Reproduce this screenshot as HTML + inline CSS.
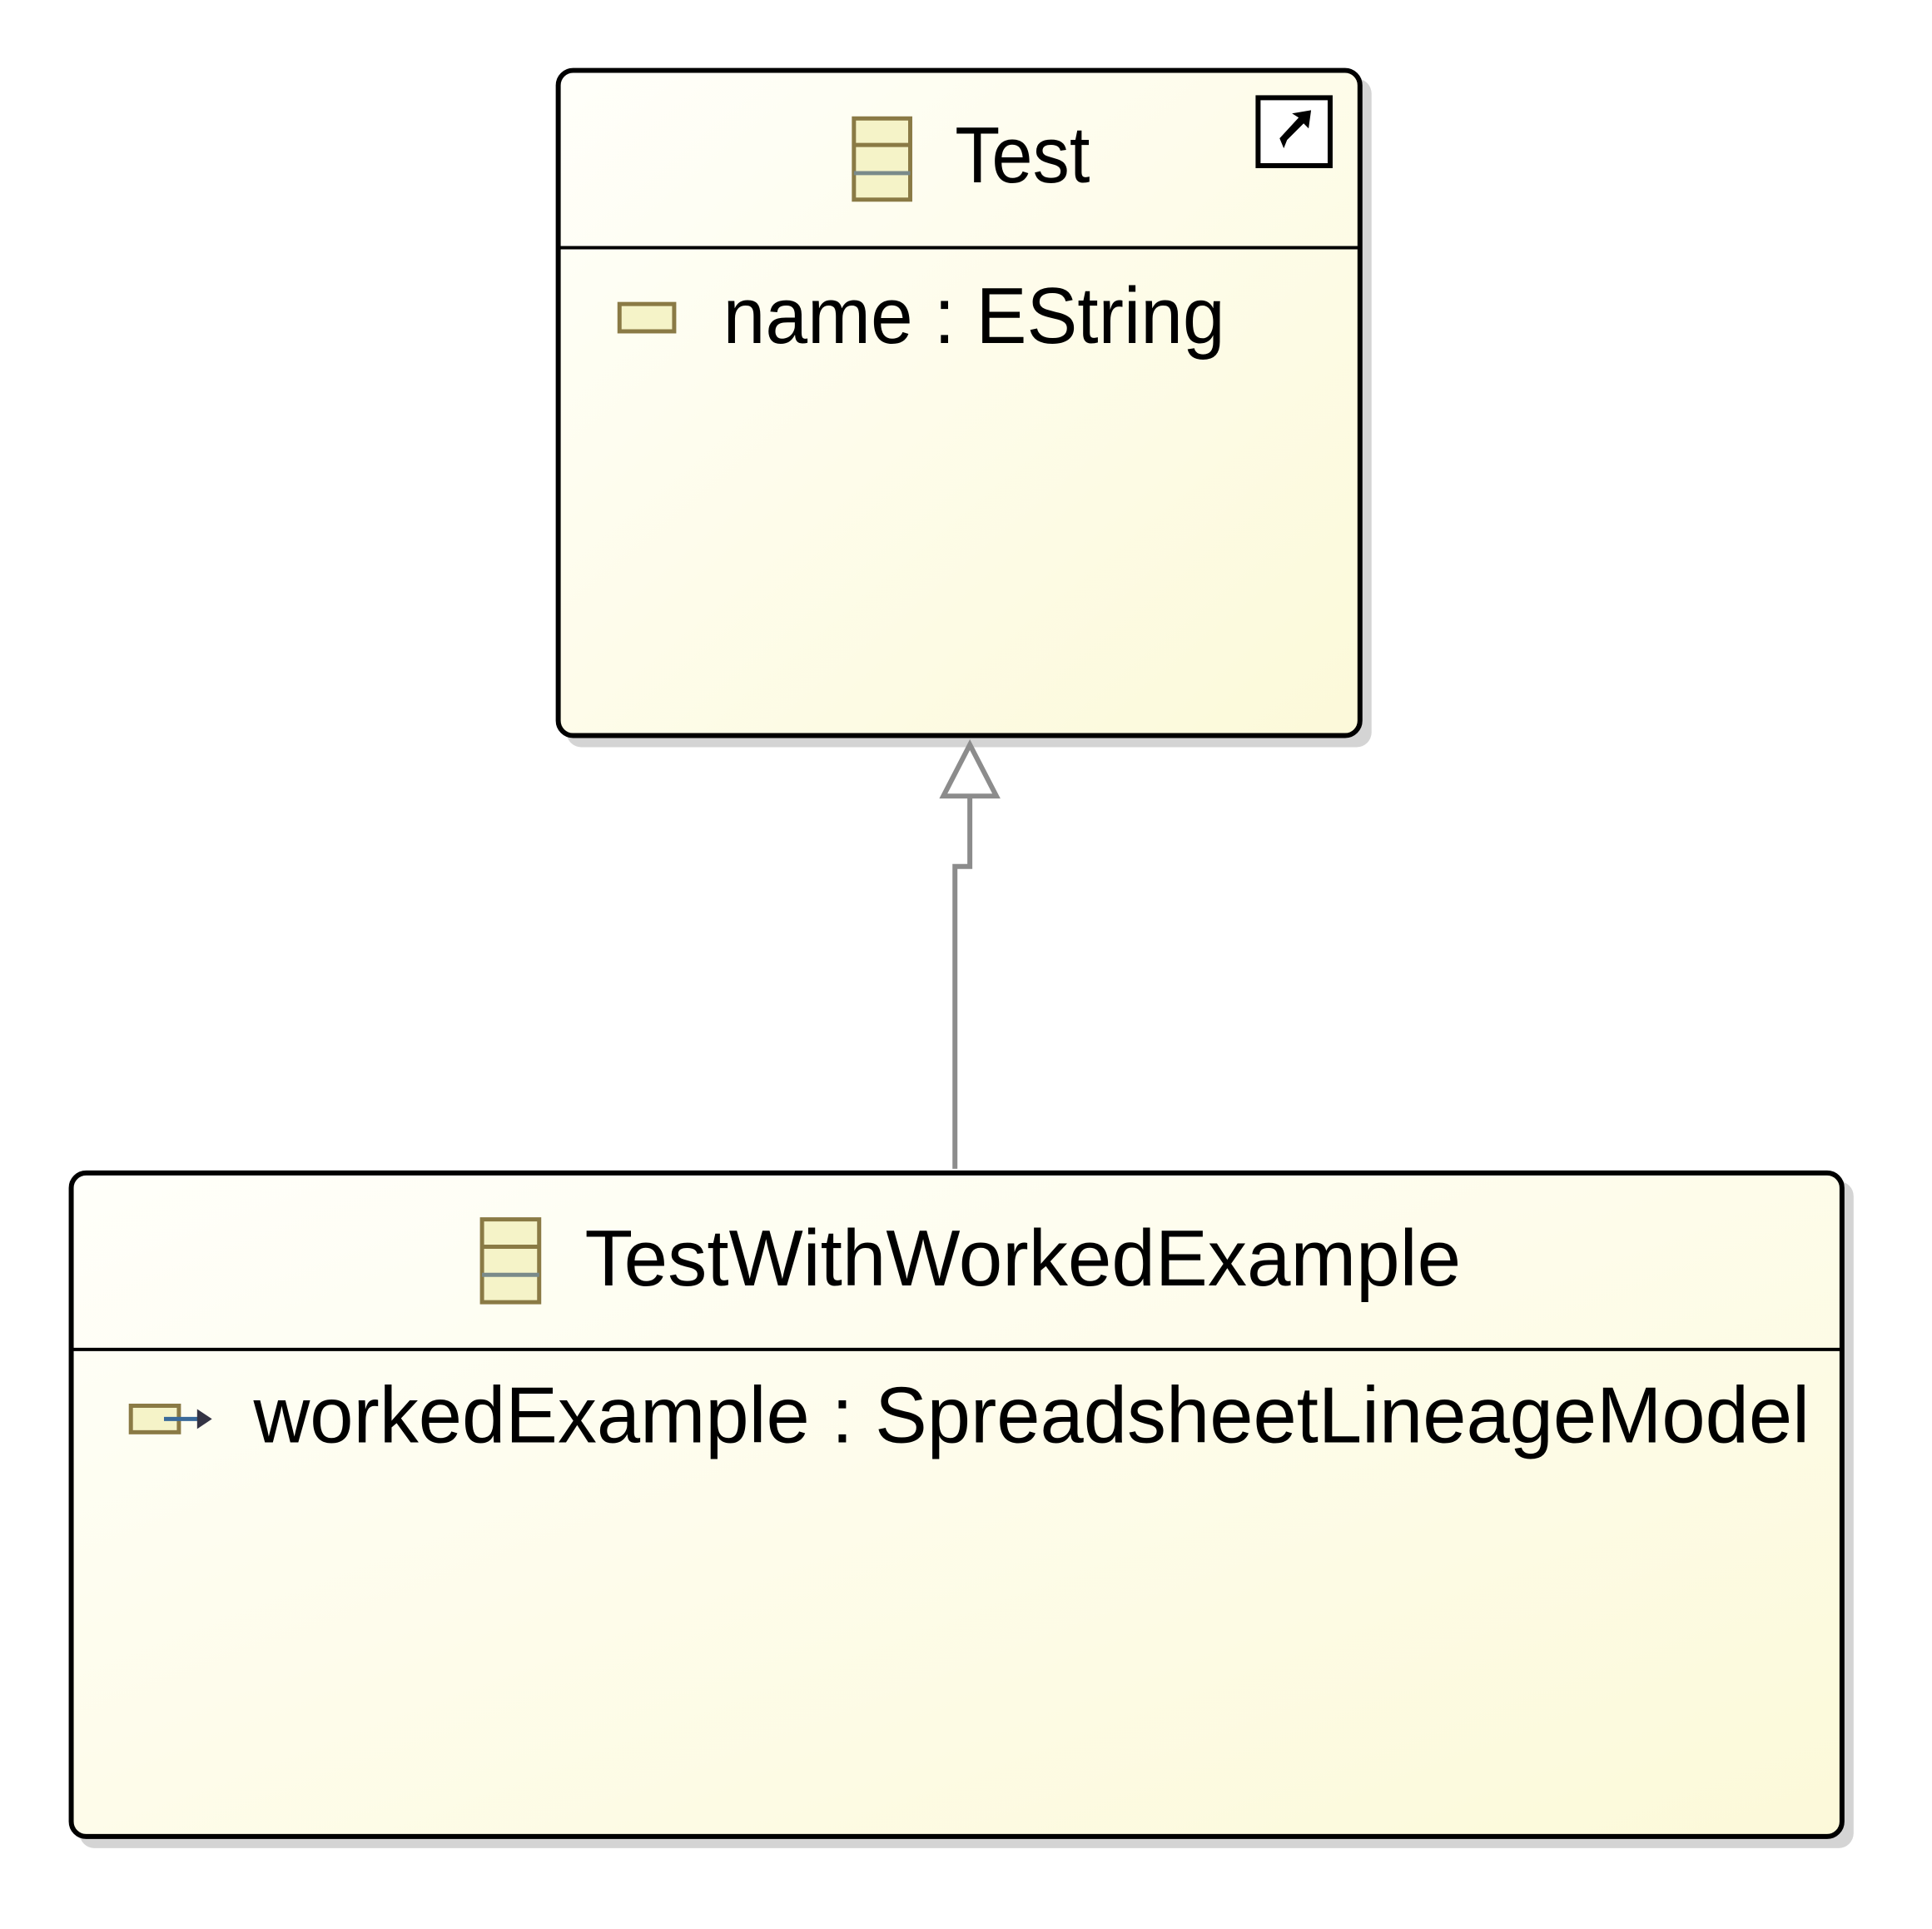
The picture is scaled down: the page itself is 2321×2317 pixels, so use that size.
<!DOCTYPE html>
<html><head><style>html,body{margin:0;padding:0;background:#fff}</style></head>
<body>
<svg width="2321" height="2312" viewBox="0 0 2321 2312" xmlns="http://www.w3.org/2000/svg" font-family="Liberation Sans, sans-serif">
<defs>
<linearGradient id="g" x1="0" y1="0" x2="1" y2="1">
<stop offset="0" stop-color="#fffffa"/><stop offset="1" stop-color="#fcf9d9"/>
</linearGradient>
</defs>
<g transform="translate(-2,-3) scale(0.995)">
<!-- Test box -->
<rect x="686" y="98" width="972" height="807" rx="18" fill="#d4d4d4"/>
<rect x="676" y="88" width="968" height="803" rx="18" fill="url(#g)" stroke="#000" stroke-width="6"/>
<line x1="678" y1="302" x2="1642" y2="302" stroke="#000" stroke-width="4"/>
<g stroke="#8a7a45" stroke-width="5" fill="#f5f3c8">
<rect x="1033" y="146" width="68" height="98"/>
<line x1="1033" y1="178" x2="1101" y2="178"/>
<line x1="1033" y1="212" x2="1101" y2="212" stroke="#7a8a8a"/>
</g>
<text x="1155" y="223" font-size="96" textLength="163" lengthAdjust="spacingAndGlyphs">Test</text>
<rect x="1521" y="121" width="87" height="82" fill="#fff" stroke="#000" stroke-width="6"/>
<path d="M1547 170 L1570 145 L1562 140 L1585 136 L1582 158 L1576 152 L1556 172 L1552 182 Z" fill="#000"/>
<rect x="750" y="370" width="66" height="33" fill="#f5f3c8" stroke="#8a7a45" stroke-width="5"/>
<text x="875" y="417" font-size="96" textLength="606" lengthAdjust="spacingAndGlyphs">name : EString</text>
<!-- connector -->
<polyline points="1173,964 1173,1049 1155,1049 1155,1414" fill="none" stroke="#8c8c8c" stroke-width="6"/>
<polygon points="1173,902 1141,964 1205,964" fill="#fff" stroke="#8c8c8c" stroke-width="6"/>
<!-- bottom box -->
<rect x="98" y="1429" width="2142" height="805" rx="18" fill="#d4d4d4"/>
<rect x="88" y="1419" width="2138" height="801" rx="18" fill="url(#g)" stroke="#000" stroke-width="6"/>
<line x1="90" y1="1632" x2="2224" y2="1632" stroke="#000" stroke-width="4"/>
<g stroke="#8a7a45" stroke-width="5" fill="#f5f3c8">
<rect x="584" y="1475" width="69" height="100"/>
<line x1="584" y1="1508" x2="653" y2="1508"/>
<line x1="584" y1="1542" x2="653" y2="1542" stroke="#7a8a8a"/>
</g>
<text x="708" y="1555" font-size="96" textLength="1058" lengthAdjust="spacingAndGlyphs">TestWithWorkedExample</text>
<rect x="160" y="1700" width="58" height="32" fill="#f5f3c8" stroke="#8a7a45" stroke-width="5"/>
<line x1="200" y1="1716" x2="245" y2="1716" stroke="#3a6a9a" stroke-width="5"/>
<polygon points="240,1704 258,1716 240,1728" fill="#334"/>
<text x="308" y="1744" font-size="96" textLength="1879" lengthAdjust="spacingAndGlyphs">workedExample : SpreadsheetLineageModel</text>
</g>
</svg>
</body></html>
